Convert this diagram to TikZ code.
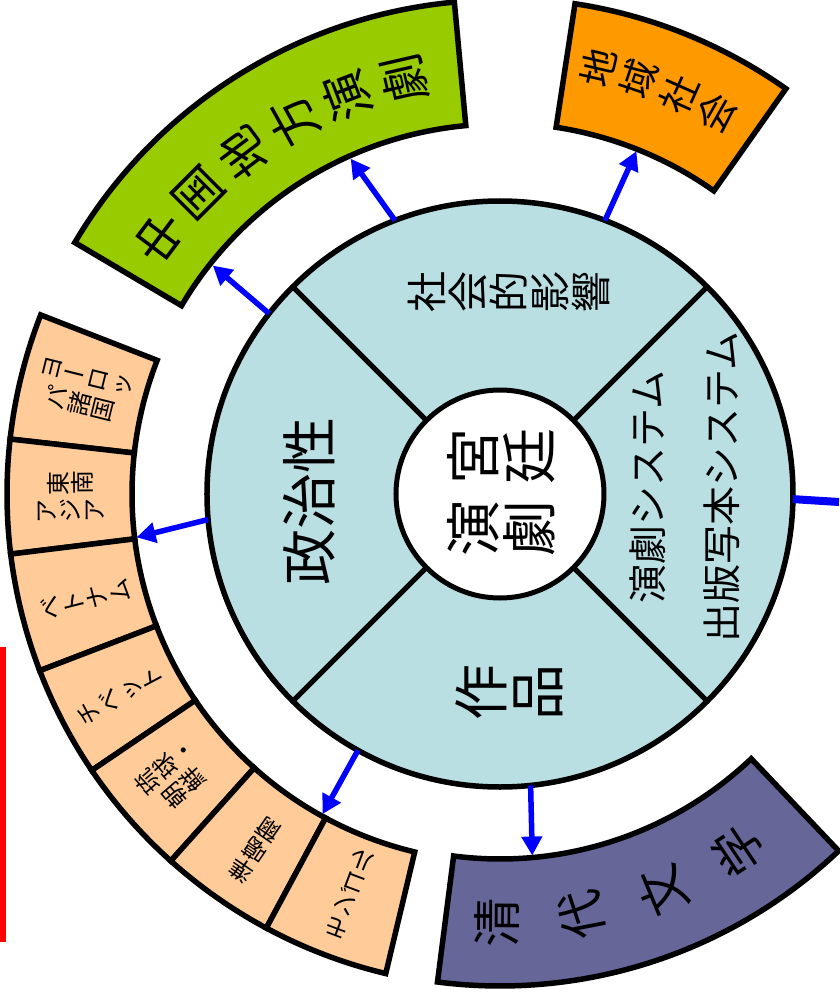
\documentclass[tikz,border=0pt]{standalone}
\usepackage{graphicx}
\usepackage{fontspec}
\setmainfont{Noto Sans CJK JP}
\usetikzlibrary{arrows.meta,calc}
\definecolor{ringfill}{RGB}{186,223,227}
\definecolor{greenband}{RGB}{153,204,0}
\definecolor{orangeband}{RGB}{255,153,0}
\definecolor{purpleband}{RGB}{102,102,153}
\definecolor{peachband}{RGB}{255,204,153}
\definecolor{arrowblue}{RGB}{0,0,255}
% one character turned a quarter turn (vertical writing, rotated picture)
\newcommand\rc[1]{\rotatebox[origin=c]{90}{\rule[-0.12em]{0pt}{1em}#1}}
\def\vtstop{vtstop}
\def\vtchar#1{\ifx#1ー#1\else\rc{#1}\fi}
\def\vtloop#1{\ifx#1\vtstop\else\vtchar#1\expandafter\vtloop\fi}
\newcommand\vt[1]{\vtloop#1\vtstop}
\begin{document}
\begin{tikzpicture}[x=1pt,y=1pt,
  band/.style={draw=black, line width=5.5pt, line join=miter},
  conn/.style={draw=arrowblue, line width=5.5pt, -{Triangle[length=19pt,width=20pt]}},
  lbl/.style={inner sep=0pt, outer sep=0pt, text=black},
  bigf/.style={font=\fontsize{56}{72}\selectfont},
  midf/.style={font=\fontsize{41}{45}\selectfont},
  sysf/.style={font=\fontsize{39}{74}\selectfont},
  arcf/.style={font=\fontsize{49}{52}\selectfont},
  orf/.style={font=\fontsize{38}{40}\selectfont},
  pf/.style={font=\fontsize{24}{28}\selectfont, align=center},
]
\useasboundingbox (-500,-500) rectangle (339,494);

% ---- outer bands ----
\draw[band, fill=greenband] (95.3:370) arc[start angle=95.3,end angle=149.4,radius=370]
  -- (149.4:494) arc[start angle=149.4,end angle=95.3,radius=494] -- cycle;
\draw[band, fill=orangeband] (54.8:371) arc[start angle=54.8,end angle=81.3,radius=371]
  -- (81.3:496) arc[start angle=81.3,end angle=54.8,radius=496] -- cycle;
\draw[band, fill=purpleband] (-97.3:365) arc[start angle=-97.3,end angle=-46.5,radius=365]
  -- (-46.5:492) arc[start angle=-46.5,end angle=-97.3,radius=492] -- cycle;
\foreach \a/\b in {158.7/173.6,173.6/187,187/201,201/214.1,214.1/228.1,228.1/241.7,241.7/256.6}{
  \draw[band, fill=peachband] (\a:368) arc[start angle=\a,end angle=\b,radius=368]
    -- (\b:493) arc[start angle=\b,end angle=\a,radius=493] -- cycle;
}

% ---- central circle ----
\node[draw=black, fill=ringfill, circle, line width=5.5pt, minimum size=586pt,
      inner sep=0pt, outer sep=0pt] (ring) at (0,0) {};
\node[draw=black, fill=white, circle, line width=5pt, minimum size=208pt,
      inner sep=0pt, outer sep=0pt] (core) at (0,0) {};
\foreach \d in {45,135,225,315}{
  \draw[line width=5pt] (core.\d) -- (ring.\d);
}

% ---- texts in the circle ----
\node[lbl, bigf, align=center] (kyutei) at (1,2) {\vt{宮廷}\\\vt{演劇}};
\node[lbl, midf] (shakai) at (9,202) {\vt{社会的影響}};
\node[lbl, bigf, rotate=90] (seiji) at (-191,-7) {政治性};
\node[lbl, bigf] (sakuhin) at (9,-198) {\vt{作品}};
\node[lbl, sysf, rotate=90, align=center] (sys) at (185,7) {演劇システム\\出版写本システム};

% ---- texts along the bands ----
\foreach \ch [count=\i] in {中,国,地,方,演,劇}{
  \pgfmathsetmacro\ang{151-8*\i}
  \node[lbl, arcf, rotate=\ang] (g\i) at (\ang:426) {\ch};
}
\foreach \ch [count=\i] in {清,代,文,学}{
  \pgfmathsetmacro\ang{-101.8+11.4*\i}
  \node[lbl, arcf, rotate=\ang-180] (q\i) at (\ang:429) {\ch};
}
\foreach \ch [count=\i] in {地,域,社,会}{
  \pgfmathsetmacro\ang{82.55-5.55*\i}
  \node[lbl, orf, rotate=\ang] (o\i) at (\ang:438) {\ch};
}

% ---- peach segments ----
\node[lbl, pf, rotate=346] (p1) at (166:430) {\vt{ヨーロッ}\\\vt{パ諸国}};
\node[lbl, pf, rotate=360.4] (p2) at (180.4:430) {\vt{東南}\\\vt{アジア}};
\node[lbl, pf, rotate=374.3] (p3) at (194.3:428) {\vt{ベトナム}};
\node[lbl, pf, rotate=388] (p4) at (208:430) {\vt{チベット}};
\node[lbl, pf, rotate=401] (p5) at (221:431) {\vt{琉球・}\\\vt{朝鮮}};
\node[lbl, pf, rotate=415.5] (p6) at (235.5:432) {\vt{準噶爾}};
\node[lbl, pf, rotate=429.4] (p7) at (249.4:428) {\vt{モンゴル}};

% ---- connectors ----
\coordinate (gA) at (141.5:367);
\coordinate (gB) at (114:367);
\coordinate (oA) at (68.3:369);
\coordinate (pA) at (186.8:366);
\coordinate (pB) at (241:366);
\coordinate (qA) at (-84.9:363);
\coordinate (stubend) at (339,-8);
\draw[conn] (ring.142) -- (gA);
\draw[conn] (ring.111.5) -- (gB);
\draw[conn] (ring.69) -- (oA);
\draw[conn] (ring.185.8) -- (pA);
\draw[conn] (ring.241.4) -- (pB);
\draw[conn] (ring.-84.2) -- (qA);
\draw[draw=arrowblue, line width=8pt] (ring.-1.5) -- (stubend);

% ---- red bar at the left edge ----
\fill[red] (-500,-153) rectangle (-494,-448);
\end{tikzpicture}
\end{document}
